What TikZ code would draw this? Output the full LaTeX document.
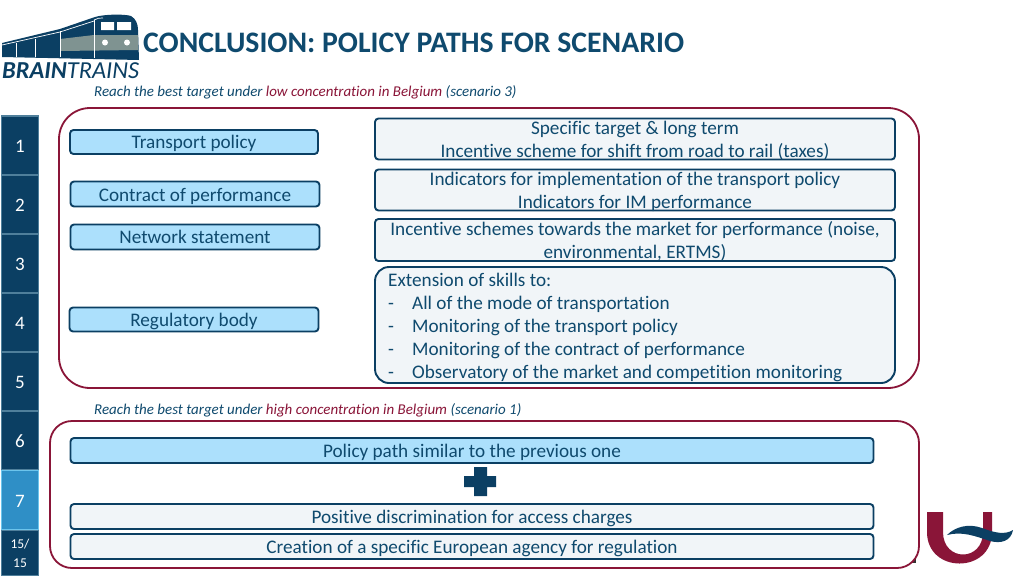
\documentclass[tikz,border=0pt]{standalone}
\usepackage{fontspec}
\setmainfont[Ligatures=NoCommon]{Carlito}
\definecolor{navy}{HTML}{0B3F63}
\definecolor{textblue}{HTML}{0F4A6E}
\definecolor{maroon}{HTML}{8A1538}
\definecolor{lightb}{HTML}{ACE0FC}
\definecolor{lightg}{HTML}{F1F5F8}
\definecolor{sideedge}{HTML}{4F7F9B}
\definecolor{activeb}{HTML}{2F8FC6}
\definecolor{activee}{HTML}{6CC4EC}
\definecolor{stripe}{HTML}{7F9391}
\tikzset{
  x=1pt,y=-1pt,
  box/.style={draw=navy,line width=1.9pt,rounded corners=3.5pt,anchor=center,text=textblue,font=\fontsize{19.2}{23}\selectfont,inner sep=0pt,align=center,text height=13pt,text depth=1pt},
  lowered/.style={text height=14pt,text depth=0pt},
  bluebox/.style={box,fill=lightb},
  greybox/.style={box,fill=lightg},
  multiline/.style={text=textblue,font=\fontsize{19.2}{23}\selectfont,align=center,inner sep=0pt},
  frame/.style={draw=maroon,line width=1.8pt,fill=white},
  sidebox/.style={draw=sideedge,line width=1.4pt,fill=navy,text=white,font=\fontsize{19}{20}\selectfont,inner sep=0pt,align=center,anchor=center,text height=14pt,text depth=0pt},
  caption/.style={font=\fontsize{14.97}{16}\selectfont\itshape,text=textblue,anchor=west,inner sep=0pt},
}
\begin{document}
\begin{tikzpicture}
\useasboundingbox (0,0) rectangle (1024,576);
\fill[white] (0,0) rectangle (1024,576);
% logo
\fill[navy] (2,43) -- (60,29) -- (95,17) .. controls (105,14) and (125,14) .. (131,16) .. controls (136,19) and (138,24) .. (138,30) -- (139,60) -- (2,57) -- cycle;
\fill[stripe] (60,39) -- (94,35) -- (138,35) -- (138,50) -- (60,51) -- cycle;
\draw[white,line width=0.7pt] (2,45) -- (60,32) -- (94,21);
\draw[white,line width=0.7pt] (16,43) -- (16,57) (35,39) -- (35,57) (60,31) -- (60,57) (94,20) -- (94,58);
\draw[white,line width=0.7pt] (94,20) .. controls (97,18) and (100,18) .. (103,18);
\fill[white] (101,22) rectangle (114,30) (117,22) rectangle (131,30);
\fill[white] (105,42.5) circle (3) (127,42.5) circle (3);
\node[font=\fontsize{24.4}{26}\selectfont\itshape,text=navy,anchor=west,inner sep=0pt] (brand) at (2,71) {\textbf{BRAIN}TRAINS};
% title
\node[font=\fontsize{29.75}{32}\selectfont\bfseries,text=textblue,anchor=west,inner sep=0pt] (title) at (143,43) {CONCLUSION: POLICY PATHS FOR SCENARIO};
% sidebar
\node[sidebox,minimum width=37pt,minimum height=59pt] (s1) at (20,145.5) {1};
\node[sidebox,minimum width=37pt,minimum height=59pt] (s2) at (20,204.5) {2};
\node[sidebox,minimum width=37pt,minimum height=59pt] (s3) at (20,263.5) {3};
\node[sidebox,minimum width=37pt,minimum height=59pt] (s4) at (20,322.5) {4};
\node[sidebox,minimum width=37pt,minimum height=59pt] (s5) at (20,381.5) {5};
\node[sidebox,minimum width=37pt,minimum height=59pt] (s6) at (20,440.5) {6};
\node[sidebox,draw=activee,fill=activeb,minimum width=37pt,minimum height=59pt] (s7) at (20,500) {7};
\node[sidebox,minimum width=37pt,minimum height=45pt,font=\fontsize{13.5}{19}\selectfont,text height=,text depth=] (s8) at (20,553) {15/\\15};
% captions
\node[caption] (c1) at (94,92) {Reach the best target under \textcolor{maroon}{low concentration in Belgium} (scenario 3)};
\node[caption] (c2) at (94,410) {Reach the best target under \textcolor{maroon}{high concentration in Belgium} (scenario 1)};
% frames
\fill[black!80] (909,563) rectangle (916,556);
\draw[frame,rounded corners=31pt] (59,108) rectangle (919,388);
\draw[frame,rounded corners=22pt] (50,421) rectangle (919,568);
% left boxes
\node[bluebox,minimum width=248pt,minimum height=24pt] (b1) at (194,142) {Transport policy};
\node[bluebox,lowered,minimum width=249pt,minimum height=25pt] (b2) at (195,194) {Contract of performance};
\node[bluebox,minimum width=249pt,minimum height=25pt] (b3) at (195,237) {Network statement};
\node[bluebox,lowered,minimum width=249pt,minimum height=24pt] (b4) at (194,319.5) {Regulatory body};
% right boxes
\node[greybox,minimum width=520pt,minimum height=41pt] (r1) at (635,139) {};
\node[multiline] (r1t) at (635,141) {Specific target \& long term\\Incentive scheme for shift from road to rail (taxes)};
\node[greybox,minimum width=520pt,minimum height=41pt] (r2) at (635,190) {};
\node[multiline] (r2t) at (635,191.5) {Indicators for implementation of the transport policy\\Indicators for IM performance};
\node[greybox,minimum width=520pt,minimum height=42pt] (r3) at (635,240) {};
\node[multiline] (r3t) at (635,241.5) {Incentive schemes towards the market for performance (noise,\\environmental, ERTMS)};
\node[greybox,rounded corners=14pt,minimum width=520pt,minimum height=116pt] (r4) at (635,325) {};
\node[anchor=north west,inner sep=0pt,text=textblue,font=\fontsize{19.2}{23}\selectfont,align=left] (r4t) at (388,272.5) {Extension of skills to:\\
\makebox[24pt][l]{-}All of the mode of transportation\\
\makebox[24pt][l]{-}Monitoring of the transport policy\\
\makebox[24pt][l]{-}Monitoring of the contract of performance\\
\makebox[24pt][l]{-}Observatory of the market and competition monitoring};
% lower boxes
\node[bluebox,lowered,minimum width=803pt,minimum height=25pt] (p1) at (472,450.5) {Policy path similar to the previous one};
\node[greybox,lowered,minimum width=803pt,minimum height=25pt] (p2) at (472,516.5) {Positive discrimination for access charges};
\node[greybox,lowered,minimum width=803pt,minimum height=25pt] (p3) at (472,546.5) {Creation of a specific European agency for regulation};
% plus
\fill[navy] (474,467) rectangle (487,496) (464,476) rectangle (496,487);
% university logo
\path[fill=maroon] (927,512) -- (943,512) -- (943,532) .. controls (943,562) and (983,562) .. (983,532) -- (983,512) -- (992,512) -- (992,532) .. controls (992,574) and (927,574) .. (927,532) -- cycle;
\path[fill=navy] (947,535) .. controls (955,527) and (968,523) .. (982,528) .. controls (995,533) and (1005,535) .. (1013,530) .. controls (1011,541) and (1001,544) .. (990,541) .. controls (975,536) and (962,531) .. (947,535) -- cycle;
\end{tikzpicture}
\end{document}
